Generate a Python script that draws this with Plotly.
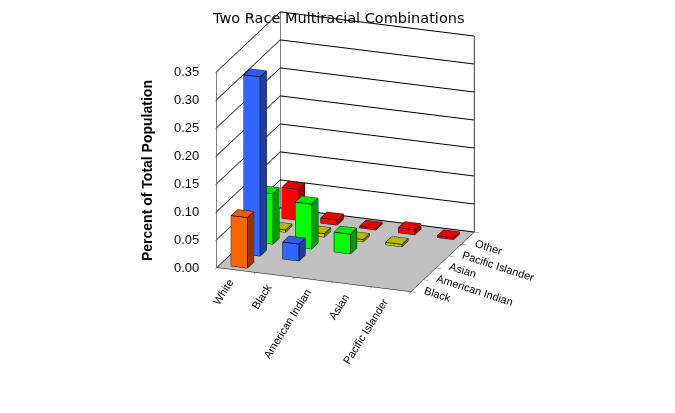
import plotly.graph_objects as go

# two-race combinations, percent of total population
columns = ["White", "Black", "American Indian", "Asian", "Pacific Islander"]
rows = ["Black", "American Indian", "Asian", "Pacific Islander", "Other"]
z_ticks = [0.0, 0.05, 0.10, 0.15, 0.20, 0.25, 0.30, 0.35]

black = [0.09]
american_indian = [0.32, 0.03]
asian = [0.09, 0.08, 0.035]
pacific_islander = [0.004, 0.006, 0.004, 0.004]
other = [0.055, 0.009, 0.003, 0.009, 0.003]

series = [black, american_indian, asian, pacific_islander, other]
front_colors = ["#FF6600", "#3366FF", "#00FF00", "#CCCC00", "#FF0000"]
side_colors = ["#993300", "#1F3D99", "#009900", "#7A7A00", "#990000"]
top_colors = ["#E65C00", "#2E5CE6", "#00E600", "#B8B800", "#E60000"]

hw = 0.21  # half width of a bar (x)
hd = 0.25  # half depth of a bar (y)
x_range = [-0.5, len(columns) - 0.5]
y_range = [-0.5, len(rows) - 0.5]
z_range = [0, z_ticks[-1]]


def box(xc, yc, h):
    x0, x1 = xc - hw, xc + hw
    y0, y1 = yc - hd, yc + hd
    vx = [x0, x1, x1, x0, x0, x1, x1, x0]
    vy = [y0, y0, y1, y1, y0, y0, y1, y1]
    vz = [0, 0, 0, 0, h, h, h, h]
    # faces: bottom, top, front(y0), back(y1), left(x0), right(x1)
    tris = [
        (0, 1, 2), (0, 2, 3),
        (4, 5, 6), (4, 6, 7),
        (0, 1, 5), (0, 5, 4),
        (3, 2, 6), (3, 6, 7),
        (0, 3, 7), (0, 7, 4),
        (1, 2, 6), (1, 6, 5),
    ]
    kinds = ["b", "b", "t", "t", "f", "f", "k", "k", "l", "l", "s", "s"]
    edges = [(0, 1), (1, 2), (2, 3), (3, 0), (4, 5), (5, 6), (6, 7), (7, 4),
             (0, 4), (1, 5), (2, 6), (3, 7)]
    return vx, vy, vz, tris, kinds, edges


fig = go.Figure()
ex, ey, ez = [], [], []
for r, vals in enumerate(series):
    X, Y, Z, I, J, K, FC = [], [], [], [], [], [], []
    for c, v in enumerate(vals):
        vx, vy, vz, tris, kinds, edges = box(c, r, v)
        off = len(X)
        X += vx
        Y += vy
        Z += vz
        for (a, b, d), kd in zip(tris, kinds):
            I.append(a + off)
            J.append(b + off)
            K.append(d + off)
            FC.append(top_colors[r] if kd == "t" else
                      side_colors[r] if kd in ("s", "l") else front_colors[r])
        for a, b in edges:
            ex += [vx[a], vx[b], None]
            ey += [vy[a], vy[b], None]
            ez += [vz[a], vz[b], None]
    fig.add_trace(go.Mesh3d(
        x=X, y=Y, z=Z, i=I, j=J, k=K, facecolor=FC, flatshading=True,
        lighting=dict(ambient=1, diffuse=0, specular=0, roughness=1, fresnel=0),
        hoverinfo="skip", name=rows[r]))

fig.add_trace(go.Scatter3d(x=ex, y=ey, z=ez, mode="lines",
                           line=dict(color="black", width=1.5),
                           hoverinfo="skip", showlegend=False))

# wall corner edges
fig.add_trace(go.Scatter3d(
    x=[x_range[0], x_range[0], None, x_range[1], x_range[1]],
    y=[y_range[1], y_range[1], None, y_range[1], y_range[1]],
    z=[z_range[0], z_range[1], None, z_range[0], z_range[1]],
    mode="lines", line=dict(color="black", width=1.5),
    hoverinfo="skip", showlegend=False))

lab_font = dict(family="Liberation Sans, Arial", size=11, color="black")
annots = []
for c, name in enumerate(columns):
    annots.append(dict(x=c, y=y_range[0], z=0, text=name, showarrow=False,
                       textangle=-58, xanchor="right", yanchor="top",
                       xshift=2, yshift=-4, font=lab_font))
for r, name in enumerate(rows):
    annots.append(dict(x=x_range[1], y=r, z=0, text=name, showarrow=False,
                       textangle=18, xanchor="left", yanchor="top",
                       xshift=3, yshift=4, font=lab_font))
for v in z_ticks:
    annots.append(dict(x=x_range[0], y=y_range[0], z=v, text=f"{v:.2f}",
                       showarrow=False, xanchor="right", yanchor="middle",
                       xshift=-16,
                       font=dict(family="Liberation Sans, Arial", size=13,
                                 color="black")))

bounds = [b - 0.5 for b in range(len(columns) + 1)]

fig.update_layout(
    width=675, height=413,
    margin=dict(l=0, r=0, t=0, b=0),
    paper_bgcolor="white",
    showlegend=False,
    title=dict(text="Two Race Multiracial Combinations", x=0.49, y=0.975,
               xanchor="center", yanchor="middle",
               font=dict(family="DejaVu Sans", size=14.5, color="black")),
    scene=dict(
        domain=dict(x=[0, 1], y=[0, 1]),
        xaxis=dict(range=x_range, showgrid=False, showticklabels=False,
                   ticks="outside", tickvals=bounds, title="",
                   showbackground=True, backgroundcolor="white",
                   showline=True, linecolor="black", zeroline=False,
                   showspikes=False),
        yaxis=dict(range=y_range, showgrid=False, showticklabels=False,
                   ticks="outside", tickvals=bounds, title="",
                   showbackground=True, backgroundcolor="white",
                   showline=True, linecolor="black", zeroline=False,
                   showspikes=False),
        zaxis=dict(range=z_range, tickvals=z_ticks, showticklabels=False,
                   showgrid=True, gridcolor="black", title="",
                   showbackground=True, backgroundcolor="#C0C0C0",
                   showline=True, linecolor="black", zeroline=False,
                   ticks="outside", showspikes=False),
        aspectmode="manual",
        aspectratio=dict(x=1.0, y=0.9, z=1.01),
        camera=dict(eye=dict(x=0.758, y=-2.084, z=0.484),
                    center=dict(x=0, y=0, z=-0.323),
                    projection=dict(type="orthographic")),
        annotations=annots,
    ),
    annotations=[dict(text="<b>Percent of Total Population</b>",
                      x=0.207, y=0.607, xref="paper", yref="paper",
                      xanchor="center", yanchor="middle",
                      showarrow=False, textangle=-90,
                      font=dict(family="Liberation Sans, Arial", size=14,
                                color="black"))],
)

fig.write_html("out.html")
